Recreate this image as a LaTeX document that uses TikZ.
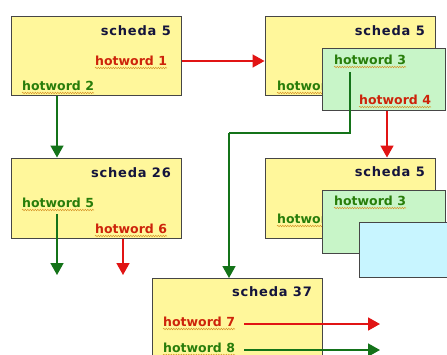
\documentclass[tikz,border=0pt]{standalone}
\usepackage{fontspec}
\setmainfont{DejaVu Sans}
\usetikzlibrary{arrows.meta,decorations.pathmorphing,calc}
\definecolor{boxyellow}{RGB}{255,247,155}
\definecolor{boxgreen}{RGB}{200,245,200}
\definecolor{boxcyan}{RGB}{200,245,255}
\definecolor{edgegray}{RGB}{70,70,70}
\definecolor{hwred}{RGB}{205,35,10}
\definecolor{hwgreen}{RGB}{40,125,10}
\definecolor{linered}{RGB}{225,20,20}
\definecolor{linegreen}{RGB}{20,115,25}
\definecolor{titleblue}{RGB}{20,20,60}
\definecolor{squigcol}{RGB}{215,150,40}
\tikzset{
  card/.style={draw=edgegray, line width=1pt, fill=boxyellow, inner sep=0pt},
  gcard/.style={draw=edgegray, line width=1pt, fill=boxgreen, inner sep=0pt},
  ccard/.style={draw=edgegray, line width=1pt, fill=boxcyan, inner sep=0pt},
  title/.style={anchor=base east, inner sep=0pt, text=titleblue, font=\fontsize{13}{15}\selectfont\bfseries\addfontfeature{LetterSpace=6}},
  hwr/.style={anchor=base west, inner sep=0pt, text=hwred, font=\fontsize{12.5}{15}\selectfont\bfseries},
  hwg/.style={anchor=base west, inner sep=0pt, text=hwgreen, font=\fontsize{12.5}{15}\selectfont\bfseries},
  squig/.style={draw=squigcol, line width=0.5pt, decorate, decoration={snake, amplitude=0.7pt, segment length=2.5pt}},
  redarrow/.style={draw=linered, line width=1.7pt, -{Triangle[length=12pt,width=13pt]}},
  greenarrow/.style={draw=linegreen, line width=1.7pt, -{Triangle[length=12pt,width=13pt]}},
  greenline/.style={draw=linegreen, line width=1.7pt},
}
\newcommand{\squigunder}[1]{\draw[squig] ([yshift=-3pt]#1.base west) -- ([yshift=-3pt]#1.base east);}
\begin{document}
\begin{tikzpicture}[x=1pt,y=-1pt]
\useasboundingbox (0,0) rectangle (447,354);
\clip (0,0) rectangle (447,354);
\fill[white] (0,0) rectangle (447,354);

% Box A
\node[card, minimum width=170pt, minimum height=79pt] (A) at (96,55.5) {};
\node[title] (tA) at (171,35) {scheda 5};
\node[hwr] (h1) at (95,65) {hotword 1};
\squigunder{h1}
\node[hwg] (h2) at (22,90) {hotword 2};
\squigunder{h2}

% Box B with overlapping box C
\node[card, minimum width=170pt, minimum height=79pt] (B) at (350,55.5) {};
\node[title] (tB) at (425,35) {scheda 5};
\node[hwg] (hB) at (277,90) {hotword 2};
\squigunder{hB}
\node[gcard, minimum width=123pt, minimum height=62pt] (C) at (383.5,79) {};
\node[hwg] (h3) at (334,64) {hotword 3};
\squigunder{h3}
\node[hwr] (h4) at (359,104) {hotword 4};
\squigunder{h4}

% Box G
\node[card, minimum width=170pt, minimum height=80pt] (G) at (96,198) {};
\node[title] (tG) at (171,177) {scheda 26};
\node[hwg] (h5) at (22,207) {hotword 5};
\squigunder{h5}
\node[hwr] (h6) at (95,233) {hotword 6};
\squigunder{h6}

% Box D with overlapping boxes E and F
\node[card, minimum width=170pt, minimum height=80pt] (D) at (350,198) {};
\node[title] (tD) at (425,176) {scheda 5};
\node[hwg] (hD) at (277,223) {hotword 2};
\squigunder{hD}
\node[gcard, minimum width=123pt, minimum height=63pt] (E) at (383.5,221.5) {};
\node[hwg] (hE) at (334,205) {hotword 3};
\squigunder{hE}
\node[ccard, minimum width=100pt, minimum height=55pt, anchor=north west] (F) at (359,222) {};

% Box H
\node[card, minimum width=170pt, minimum height=90pt, anchor=north west] (H) at (152,278) {};
\node[title] (tH) at (312,296) {scheda 37};
\node[hwr] (h7) at (163,326) {hotword 7};
\squigunder{h7}
\node[hwg] (h8) at (163,352) {hotword 8};
\squigunder{h8}

% connectors
\coordinate (c3a) at (350,72);
\coordinate (c3b) at (350,133);
\coordinate (c3c) at (229,133);
\draw[redarrow] (A.east |- 0,61) -- (B.west |- 0,61);
\draw[greenarrow] (A.south -| 57,0) -- (G.north -| 57,0);
\draw[greenline] (c3a) -- (c3b) -- (c3c);
\draw[greenarrow] (c3c) -- (H.north -| c3c);
\draw[redarrow] (C.south -| 387,0) -- (D.north -| 387,0);
\coordinate (g5a) at (57,214);
\coordinate (g5b) at (57,275);
\draw[greenarrow] (g5a) -- (g5b);
\coordinate (r6b) at (123,275);
\draw[redarrow] (G.south -| r6b) -- (r6b);
\coordinate (r7b) at (380,324);
\coordinate (g8b) at (380,350);
\draw[redarrow] ([xshift=9pt]h7.east |- 0,324) -- (r7b);
\draw[greenarrow] ([xshift=9pt]h8.east |- 0,350) -- (g8b);
\end{tikzpicture}
\end{document}
